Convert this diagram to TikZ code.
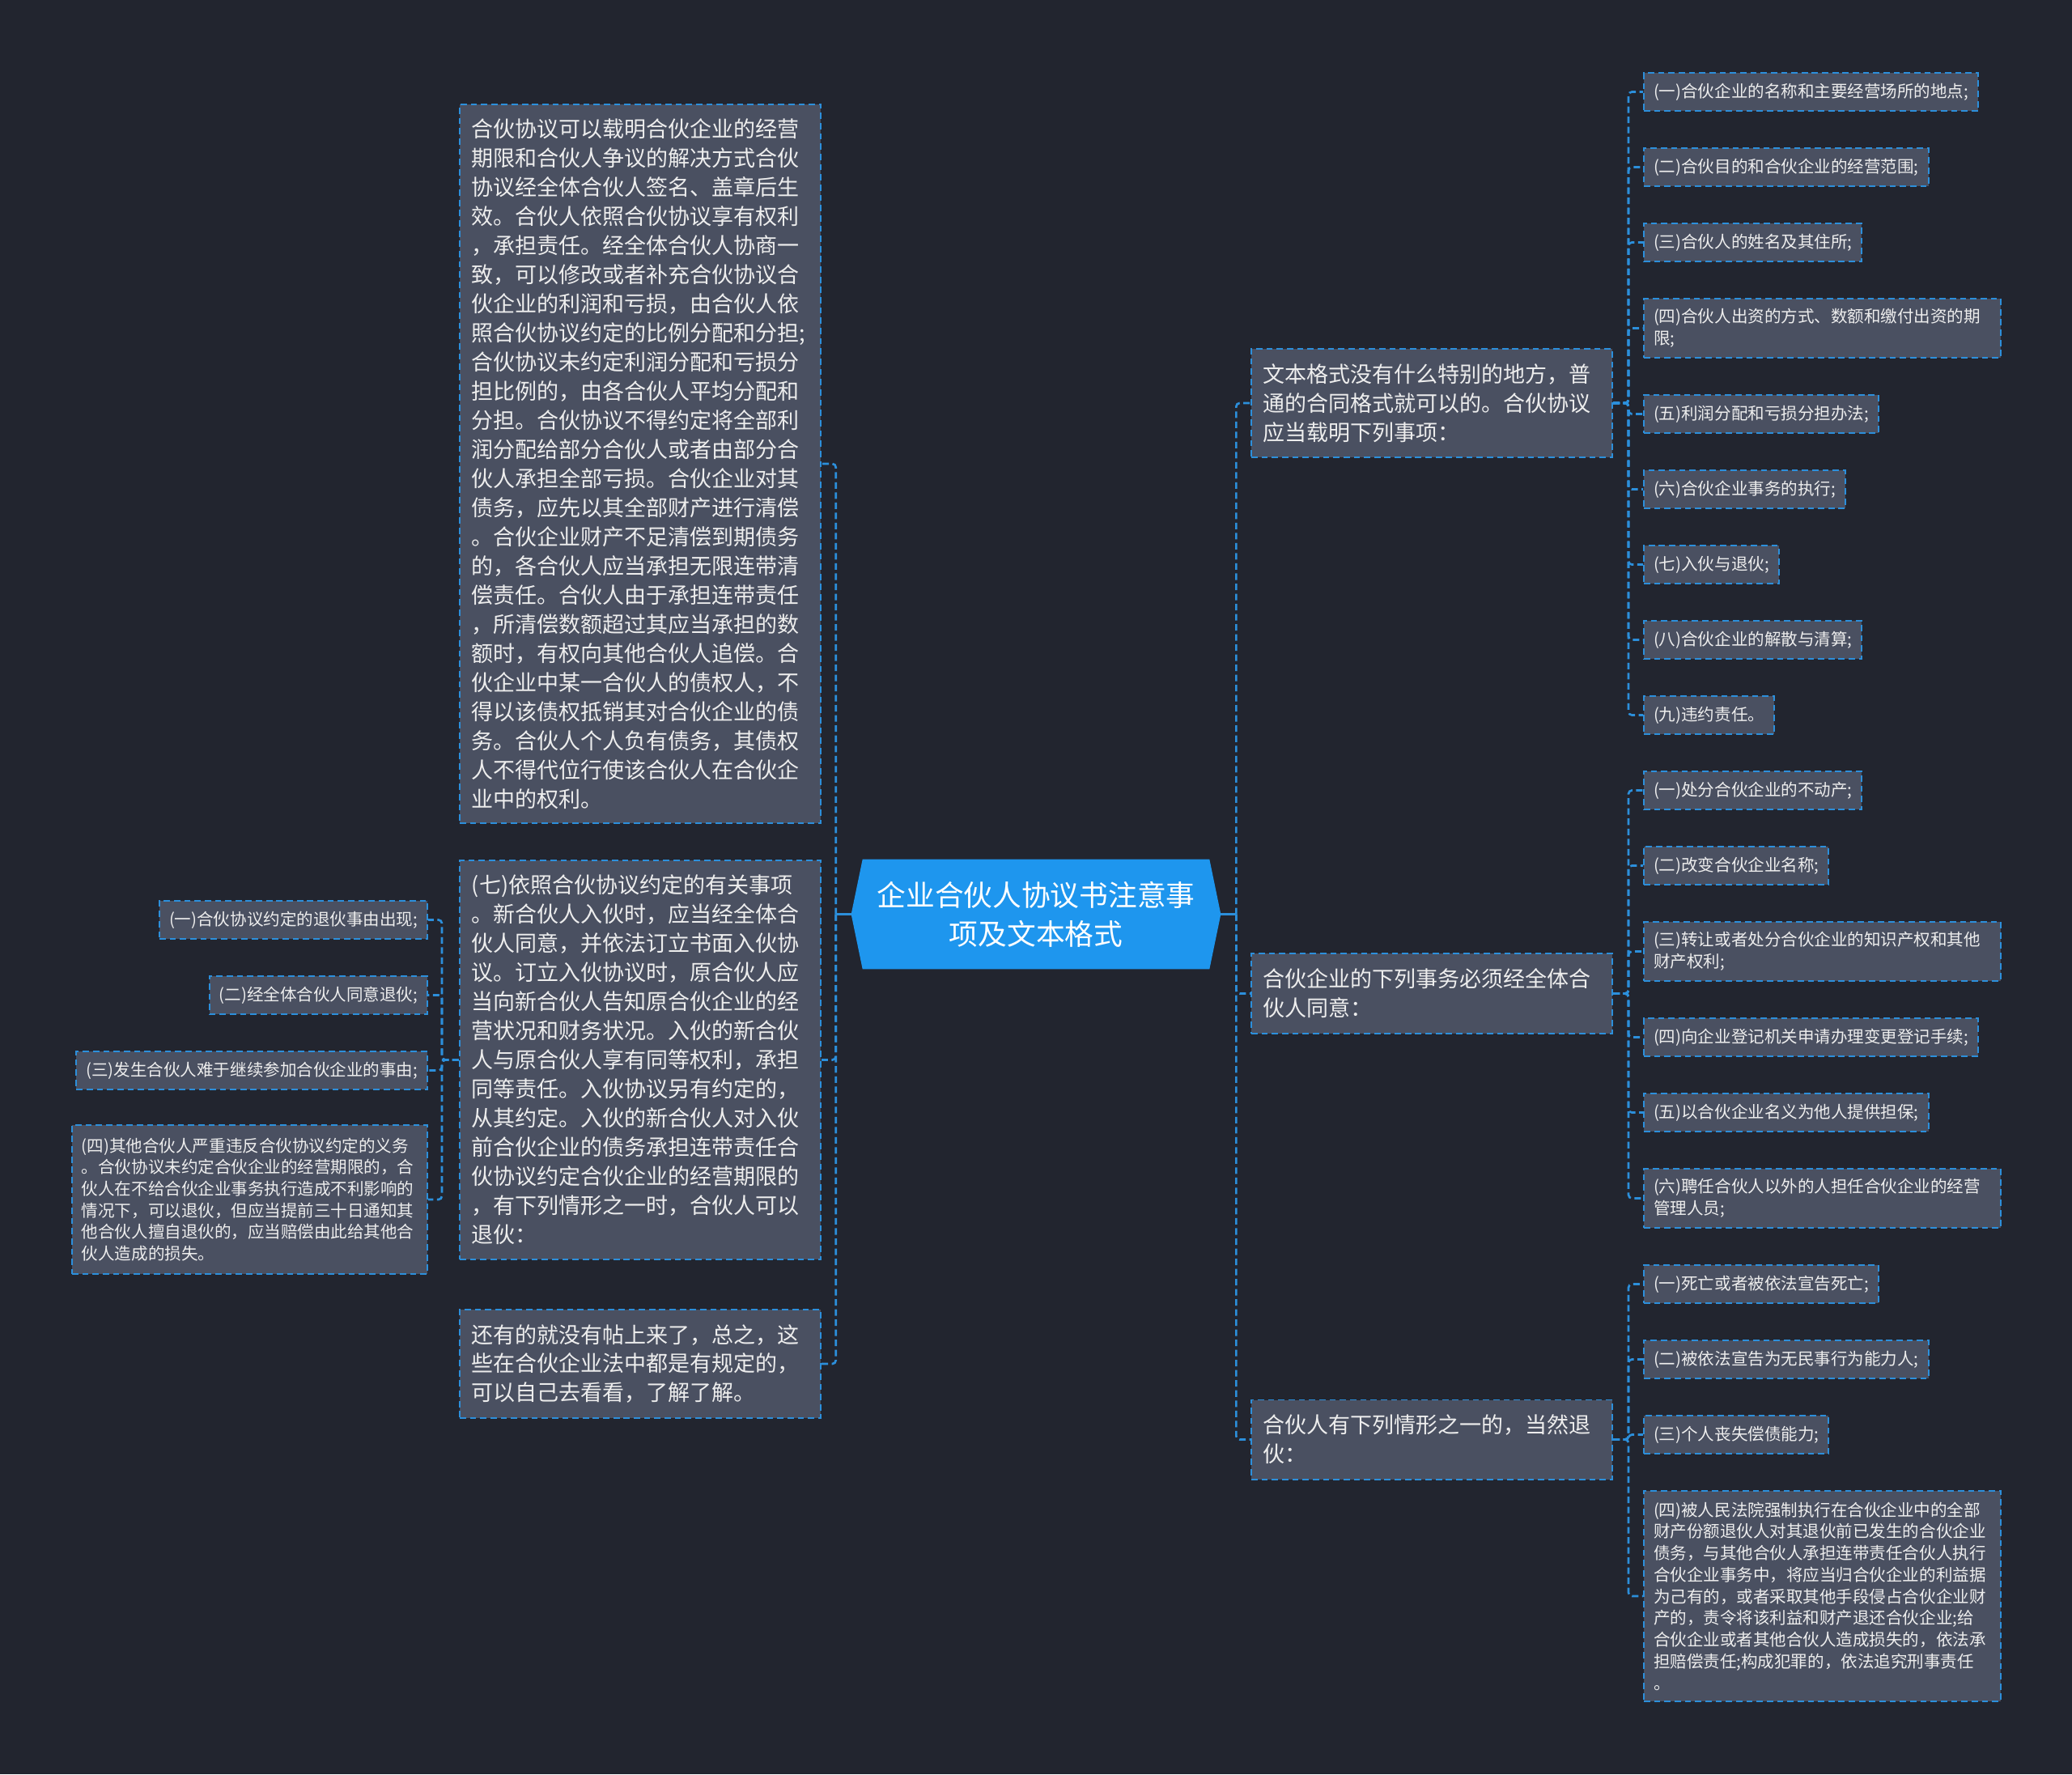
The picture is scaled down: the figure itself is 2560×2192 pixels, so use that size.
\documentclass[tikz,border=0pt]{standalone}
\usepackage{fontspec}
\newfontfamily\cjk{Noto Sans CJK SC}
\usetikzlibrary{backgrounds}
\definecolor{bgc}{HTML}{22252F}
\definecolor{boxc}{HTML}{4A5061}
\definecolor{linec}{HTML}{2C8FDB}
\definecolor{ctrc}{HTML}{1E96EE}
\definecolor{txtc}{HTML}{EDEDED}
\newcommand\fsz[2]{\fontsize{#1}{#2}\selectfont}
\begin{document}
\begin{tikzpicture}[x=0.025cm,y=-0.025cm,
 boxbase/.style={draw=linec, fill=boxc, line width=1.4pt, dash pattern=on 5.5pt off 3.5pt, text=txtc, align=left, inner ysep=0pt},
 lone/.style={boxbase, font={\cjk\fsz{19.2pt}{25.6pt}}, text width=10.4cm, inner xsep=0.375cm, minimum width=11.15cm},
 ltwo/.style={boxbase, font={\cjk\fsz{14.6pt}{19pt}}, inner xsep=0.3cm, minimum height=1.175cm},
 ltwow/.style={ltwo, text width=10.425cm},
 conn/.style={draw=linec, line width=1.9pt, dash pattern=on 5.7pt off 3.2pt, rounded corners=3pt},
 stub/.style={draw=linec, line width=1.9pt},
]
\useasboundingbox (0,0) rectangle (2560,2192);
% center
\node[font={\cjk\fsz{25.4pt}{34pt}}, text=white, align=center, minimum width=11.4cm, minimum height=3.375cm, inner sep=0pt] (c) at (1280,1129.5) {企业合伙人协议书注意事\\项及文本格式};
\begin{scope}[on background layer]
\fill[bgc] (0,0) rectangle (2560,2192);
\fill[ctrc] (c.west) -- ([xshift=0.35cm]c.north west) -- ([xshift=-0.35cm]c.north east) -- (c.east) -- ([xshift=-0.35cm]c.south east) -- ([xshift=0.35cm]c.south west) -- cycle;
\end{scope}

% left level 1
\node[lone, minimum height=22.2cm] (l1) at (791,573) {合伙协议可以载明合伙企业的经营\\期限和合伙人争议的解决方式合伙\\协议经全体合伙人签名、盖章后生\\效。合伙人依照合伙协议享有权利\\，承担责任。经全体合伙人协商一\\致，可以修改或者补充合伙协议合\\伙企业的利润和亏损，由合伙人依\\照合伙协议约定的比例分配和分担;\\合伙协议未约定利润分配和亏损分\\担比例的，由各合伙人平均分配和\\分担。合伙协议不得约定将全部利\\润分配给部分合伙人或者由部分合\\伙人承担全部亏损。合伙企业对其\\债务，应先以其全部财产进行清偿\\。合伙企业财产不足清偿到期债务\\的，各合伙人应当承担无限连带清\\偿责任。合伙人由于承担连带责任\\，所清偿数额超过其应当承担的数\\额时，有权向其他合伙人追偿。合\\伙企业中某一合伙人的债权人，不\\得以该债权抵销其对合伙企业的债\\务。合伙人个人负有债务，其债权\\人不得代位行使该合伙人在合伙企\\业中的权利。};
\node[lone, minimum height=12.325cm] (l2) at (791,1309.5) {(七)依照合伙协议约定的有关事项\\。新合伙人入伙时，应当经全体合\\伙人同意，并依法订立书面入伙协\\议。订立入伙协议时，原合伙人应\\当向新合伙人告知原合伙企业的经\\营状况和财务状况。入伙的新合伙\\人与原合伙人享有同等权利，承担\\同等责任。入伙协议另有约定的，\\从其约定。入伙的新合伙人对入伙\\前合伙企业的债务承担连带责任合\\伙协议约定合伙企业的经营期限的\\，有下列情形之一时，合伙人可以\\退伙：};
\node[lone, minimum height=3.35cm] (l3) at (791,1685) {还有的就没有帖上来了，总之，这\\些在合伙企业法中都是有规定的，\\可以自己去看看，了解了解。};

% left level 2
\node[ltwo, anchor=east] (d1) at (529,1136.5) {(一)合伙协议约定的退伙事由出现;};
\node[ltwo, anchor=east] (d2) at (529,1229.5) {(二)经全体合伙人同意退伙;};
\node[ltwo, anchor=east] (d3) at (529,1322.5) {(三)发生合伙人难于继续参加合伙企业的事由;};
\node[ltwo, anchor=east, text width=10.375cm, minimum height=4.6cm] (d4) at (529,1482) {(四)其他合伙人严重违反合伙协议约定的义务\\。合伙协议未约定合伙企业的经营期限的，合\\伙人在不给合伙企业事务执行造成不利影响的\\情况下，可以退伙，但应当提前三十日通知其\\他合伙人擅自退伙的，应当赔偿由此给其他合\\伙人造成的损失。};

% right level 1
\node[lone, minimum height=3.35cm] (r1) at (1769,498) {文本格式没有什么特别的地方，普\\通的合同格式就可以的。合伙协议\\应当载明下列事项：};
\node[lone, minimum height=2.475cm] (r2) at (1769,1227.5) {合伙企业的下列事务必须经全体合\\伙人同意：};
\node[lone, minimum height=2.45cm] (r3) at (1769,1778.5) {合伙人有下列情形之一的，当然退\\伙：};

% right level 2
\node[ltwo, anchor=west] (a1) at (2030,113.5) {(一)合伙企业的名称和主要经营场所的地点;};
\node[ltwo, anchor=west] (a2) at (2030,206.5) {(二)合伙目的和合伙企业的经营范围;};
\node[ltwo, anchor=west] (a3) at (2030,299.5) {(三)合伙人的姓名及其住所;};
\node[ltwow, anchor=west, minimum height=1.825cm] (a4) at (2030,405.5) {(四)合伙人出资的方式、数额和缴付出资的期\\限;};
\node[ltwo, anchor=west] (a5) at (2030,511.5) {(五)利润分配和亏损分担办法;};
\node[ltwo, anchor=west] (a6) at (2030,604.5) {(六)合伙企业事务的执行;};
\node[ltwo, anchor=west] (a7) at (2030,697.5) {(七)入伙与退伙;};
\node[ltwo, anchor=west] (a8) at (2030,790.5) {(八)合伙企业的解散与清算;};
\node[ltwo, anchor=west] (a9) at (2030,883.5) {(九)违约责任。};

\node[ltwo, anchor=west] (b1) at (2030,976.5) {(一)处分合伙企业的不动产;};
\node[ltwo, anchor=west] (b2) at (2030,1069.5) {(二)改变合伙企业名称;};
\node[ltwow, anchor=west, minimum height=1.825cm] (b3) at (2030,1175.5) {(三)转让或者处分合伙企业的知识产权和其他\\财产权利;};
\node[ltwo, anchor=west] (b4) at (2030,1281.5) {(四)向企业登记机关申请办理变更登记手续;};
\node[ltwo, anchor=west] (b5) at (2030,1374.5) {(五)以合伙企业名义为他人提供担保;};
\node[ltwow, anchor=west, minimum height=1.825cm] (b6) at (2030,1480.5) {(六)聘任合伙人以外的人担任合伙企业的经营\\管理人员;};

\node[ltwo, anchor=west] (e1) at (2030,1586.5) {(一)死亡或者被依法宣告死亡;};
\node[ltwo, anchor=west] (e2) at (2030,1679.5) {(二)被依法宣告为无民事行为能力人;};
\node[ltwo, anchor=west] (e3) at (2030,1772.5) {(三)个人丧失偿债能力;};
\node[ltwow, anchor=west, minimum height=6.5cm] (e4) at (2030,1972) {(四)被人民法院强制执行在合伙企业中的全部\\财产份额退伙人对其退伙前已发生的合伙企业\\债务，与其他合伙人承担连带责任合伙人执行\\合伙企业事务中，将应当归合伙企业的利益据\\为己有的，或者采取其他手段侵占合伙企业财\\产的，责令将该利益和财产退还合伙企业;给\\合伙企业或者其他合伙人造成损失的，依法承\\担赔偿责任;构成犯罪的，依法追究刑事责任\\。};

% connectors
\draw[stub] (c.east) -- ++(19,0) coordinate (rj);
\draw[stub] (c.west) -- ++(-19,0) coordinate (lj);
\foreach \n in {r1,r2,r3} \draw[conn] (rj) |- (\n.west);
\foreach \n in {l1,l2,l3} \draw[conn] (lj) |- (\n.east);
\foreach \n in {a1,a2,a3,a4,a5,a6,a7,a8,a9} \draw[conn] (r1.east) -- ++(19,0) |- (\n.west);
\foreach \n in {b1,b2,b3,b4,b5,b6} \draw[conn] (r2.east) -- ++(19,0) |- (\n.west);
\foreach \n in {e1,e2,e3,e4} \draw[conn] (r3.east) -- ++(19,0) |- (\n.west);
\foreach \n in {d1,d2,d3,d4} \draw[conn] (l2.west) -- ++(-21,0) |- (\n.east);
\end{tikzpicture}
\end{document}
